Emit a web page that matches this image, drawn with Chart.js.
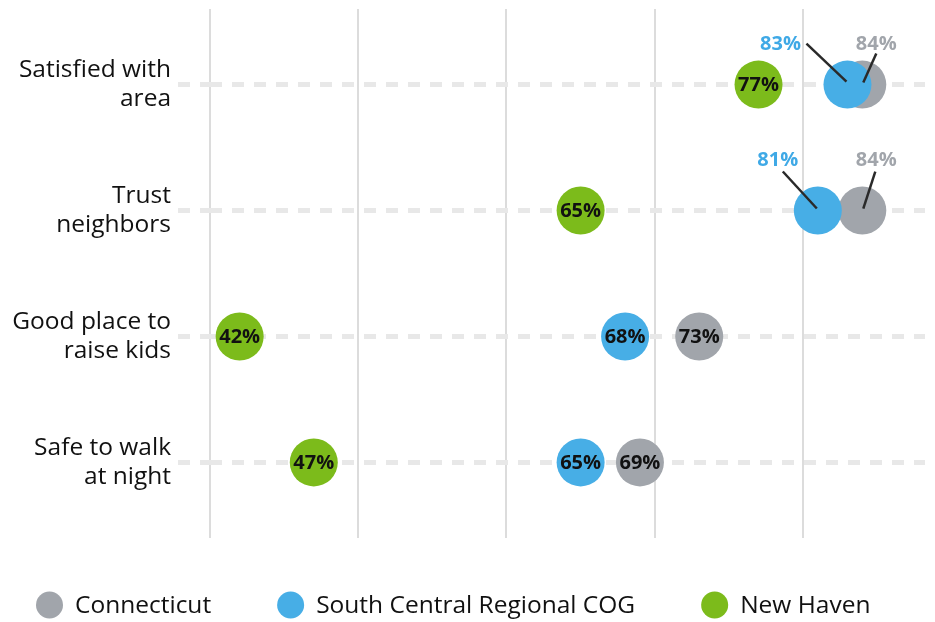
<!DOCTYPE html>
<html>
<head>
<meta charset="utf-8">
<script src="https://cdn.jsdelivr.net/npm/chart.js@4"></script>
<style>
  html, body { margin: 0; padding: 0; background: #fff; }
</style>
</head>
<body>
<canvas id="dotChart" width="935" height="622"></canvas>
<script>
// chart data
const categories = [['Satisfied with', 'area'], ['Trust', 'neighbors'], ['Good place to', 'raise kids'], ['Safe to walk', 'at night']];
const seriesNames = ['Connecticut', 'South Central Regional COG', 'New Haven'];
const connecticut = [84, 84, 73, 69];
const southCentral = [83, 81, 68, 65];
const newHaven = [77, 65, 42, 47];
const gridTicks = [40, 50, 60, 70, 80];

const FONT = 'Open Sans';
const colors = ['#a1a5ab', '#47aee6', '#7cbb1b'];
const labelColors = ['#a1a5ab', '#3fa9e6', '#7cbb1b'];

// labels that sit outside the dot (overlapping pairs)
const callouts = [
	{ ds: 1, i: 0, dx: -67, dy: -40, lx: -41, ly: -41, ex: -1, ey: -3 },
	{ ds: 0, i: 0, dx: 14, dy: -40, lx: 14, ly: -31, ex: 1, ey: -2 },
	{ ds: 1, i: 1, dx: -40, dy: -50, lx: -35, ly: -39, ex: -1, ey: -2 },
	{ ds: 0, i: 1, dx: 14, dy: -50, lx: 13, ly: -39, ex: 1, ey: -2 },
];

function toPoints(values) {
	return values.map((v, i) => ({ x: v, y: i }));
}

const dotLabels = {
	id: 'dotLabels',
	afterDatasetsDraw(chart) {
		const ctx = chart.ctx;
		ctx.save();
		ctx.font = 'bold 20px ' + FONT;
		ctx.textAlign = 'center';
		ctx.textBaseline = 'middle';
		chart.data.datasets.forEach((ds, di) => {
			const meta = chart.getDatasetMeta(di);
			meta.data.forEach((pt, i) => {
				const txt = ds.data[i].x + '%';
				const c = callouts.find((c) => c.ds === di && c.i === i);
				if (c) {
					ctx.strokeStyle = '#2a2a2a';
					ctx.lineWidth = 2.5;
					ctx.beginPath();
					ctx.moveTo(pt.x + c.lx, pt.y + c.ly);
					ctx.lineTo(pt.x + c.ex, pt.y + c.ey);
					ctx.stroke();
					ctx.fillStyle = labelColors[di];
					ctx.fillText(txt, pt.x + c.dx, pt.y + c.dy);
				} else {
					ctx.fillStyle = '#111';
					ctx.fillText(txt, pt.x, pt.y + 1);
				}
			});
		});
		ctx.restore();
	},
};

// legend drawn by hand so the spacing matches
const bottomLegend = {
	id: 'bottomLegend',
	afterDraw(chart) {
		const ctx = chart.ctx;
		let x = 36;
		const y = 605;
		ctx.save();
		ctx.font = '24.5px ' + FONT;
		ctx.textBaseline = 'middle';
		ctx.textAlign = 'left';
		chart.data.datasets.forEach((ds, di) => {
			ctx.fillStyle = colors[di];
			ctx.beginPath();
			ctx.arc(x + 13.5, y, 13.5, 0, Math.PI * 2);
			ctx.fill();
			ctx.fillStyle = '#111';
			ctx.fillText(ds.label, x + 39, y + 1);
			x += 39 + ctx.measureText(ds.label).width + 66;
		});
		ctx.restore();
	},
};

const datasets = [connecticut, southCentral, newHaven].map((vals, di) => ({
	label: seriesNames[di],
	data: toPoints(vals),
	backgroundColor: colors[di],
	borderWidth: 0,
	pointRadius: 24,
	pointHoverRadius: 24,
	order: 2 - di,
}));

function noPadding(s) {
	s.paddingTop = 0;
	s.paddingBottom = 0;
	s.paddingLeft = 0;
	s.paddingRight = 0;
}

document.fonts.load('24px ' + FONT).then(function () {
	const ctx = document.getElementById('dotChart').getContext('2d');
	new Chart(ctx, {
		type: 'scatter',
		data: { datasets: datasets },
		options: {
			responsive: false,
			animation: false,
			layout: { autoPadding: false, padding: { top: 9, right: 10, bottom: 84, left: 0 } },
			plugins: {
				legend: { display: false },
				tooltip: { enabled: false },
			},
			scales: {
				x: {
					type: 'linear',
					min: 40,
					max: 88.23,
					afterBuildTicks: (s) => {
						s.ticks = gridTicks.map((v) => ({ value: v }));
					},
					afterFit: noPadding,
					border: { display: false },
					grid: { color: '#dcdcdc', lineWidth: 2, drawTicks: false },
					ticks: { display: false },
				},
				y: {
					type: 'linear',
					reverse: true,
					min: -0.6,
					max: 3.6,
					afterBuildTicks: (s) => {
						s.ticks = categories.map((c, i) => ({ value: i }));
					},
					afterFit: (s) => {
						s.width = 210;
						noPadding(s);
					},
					border: { display: false, dash: [12, 10] },
					grid: {
						color: '#e8e8e8',
						lineWidth: 5,
						tickLength: 32,
						tickColor: '#e8e8e8',
						tickWidth: 5,
						tickBorderDash: [12, 10],
					},
					ticks: {
						padding: 7,
						color: '#111',
						font: { family: FONT, size: 24.5, lineHeight: 1.2 },
						callback: (v) => categories[v],
					},
				},
			},
		},
		plugins: [dotLabels, bottomLegend],
	});
});
</script>
</body>
</html>
